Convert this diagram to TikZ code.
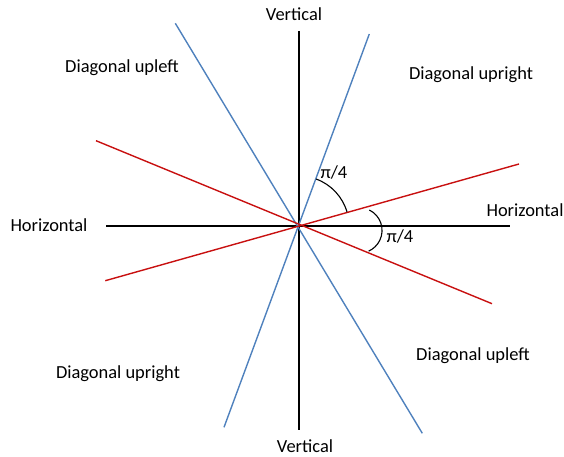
\documentclass[tikz,border=0pt]{standalone}
\usepackage{fontspec}
\setmainfont{Carlito}
\definecolor{lblue}{RGB}{79,129,189}
\definecolor{lred}{RGB}{200,16,16}
\begin{document}
\begin{tikzpicture}[x=1bp,y=-1bp,
  axis/.style={black,line width=1.2bp},
  blueline/.style={lblue,line width=1.4bp},
  redline/.style={lred,line width=1.4bp},
  anglearc/.style={black,line width=1.1bp},
  lbl/.style={inner sep=0pt,font=\fontsize{18.5}{22}\selectfont}]
\useasboundingbox (0,0) rectangle (564,457);
\coordinate (O) at (299,226);
% axes
\coordinate (vt) at (299,31);
\coordinate (vb) at (299,430);
\coordinate (hl) at (106,226);
\coordinate (hr) at (510,226);
\draw[axis] (vt) -- (vb);
\draw[axis] (hl) -- (hr);
% blue lines
\coordinate (b1a) at (175.3,23.3);
\coordinate (b1b) at (422.3,433.3);
\coordinate (b2a) at (369.3,34);
\coordinate (b2b) at (224,427.3);
\draw[blueline] (b1a) -- (b1b);
\draw[blueline] (b2a) -- (b2b);
% red lines
\coordinate (r1a) at (96,140.7);
\coordinate (r1b) at (492,303.7);
\coordinate (r2a) at (105.3,280.7);
\coordinate (r2b) at (519,164);
\draw[redline] (r1a) -- (r1b);
\draw[redline] (r2a) -- (r2b);
% angle arcs
\draw[anglearc] ([shift={(-70:50)}]O) arc[start angle=-70,end angle=-16,radius=50];
\coordinate (a2s) at (369.3,210);
\draw[anglearc] (a2s) arc[start angle=-64,end angle=66,radius=22.7];
% labels
\node[lbl] (vtop) at (294,14) {Vertical};
\node[lbl] (vbot) at (305,446) {Vertical};
\node[lbl] (hleft) at (49,225) {Horizontal};
\node[lbl] (hright) at (525,210) {Horizontal};
\node[lbl] (dul) at (122,68) {Diagonal upleft};
\node[lbl] (dur) at (471,75) {Diagonal upright};
\node[lbl] (dul2) at (473,356) {Diagonal upleft};
\node[lbl] (dur2) at (118,374) {Diagonal upright};
\node[lbl] (pi1) at (334,172) {π/4};
\node[lbl] (pi2) at (400,236) {π/4};
\end{tikzpicture}
\end{document}
